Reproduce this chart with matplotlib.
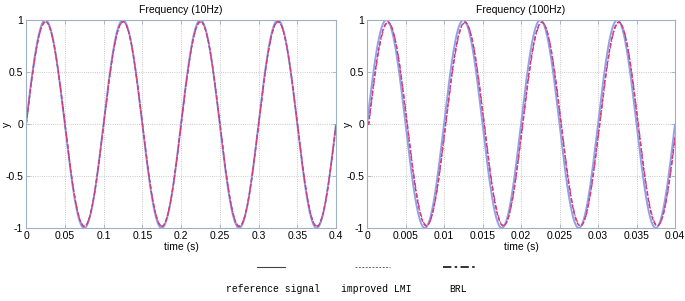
import numpy as np
import matplotlib
matplotlib.use('Agg')
from matplotlib import pyplot as plt
from matplotlib.lines import Line2D

# test signals: sinusoid frequency (Hz), window length (s)
freqs = [10, 100]
t_end = [0.4, 0.04]
titles = ['Frequency (10Hz)', 'Frequency (100Hz)']

# tracking results: peak amplitude and time lag (s)
lmi_amp = [0.985, 0.98]
lmi_lag = [0.0002, 0.0002]
brl_amp = [0.98, 0.975]
brl_lag = [0.00022, 0.00024]

xticks = [[0, 0.05, 0.1, 0.15, 0.2, 0.25, 0.3, 0.35, 0.4],
          [0, 0.005, 0.01, 0.015, 0.02, 0.025, 0.03, 0.035, 0.04]]
xticklabels = [['0', '0.05', '0.1', '0.15', '0.2', '0.25', '0.3', '0.35', '0.4'],
               ['0', '0.005', '0.01', '0.015', '0.02', '0.025', '0.03', '0.035', '0.04']]
yticks = [-1, -0.5, 0, 0.5, 1]
yticklabels = ['-1', '-0.5', '0', '0.5', '1']
legend_labels = ['reference signal', 'improved LMI', 'BRL']

plt.rcParams['font.family'] = ['Liberation Sans Narrow', 'Liberation Sans', 'DejaVu Sans']
plt.rcParams['font.size'] = 7

fig = plt.figure(figsize=(6.85, 3.01), dpi=100)
positions = [[0.038, 0.2425, 0.4525, 0.691], [0.5358, 0.2425, 0.4496, 0.691]]

spine_col = '#9fb0c4'
for i in range(2):
    ax = fig.add_axes(positions[i])
    f = freqs[i]
    t = np.linspace(0, t_end[i], 2000)
    ref = np.sin(2 * np.pi * f * t)
    lmi = lmi_amp[i] * np.sin(2 * np.pi * f * np.clip(t - lmi_lag[i], 0, None))
    brl = brl_amp[i] * np.sin(2 * np.pi * f * np.clip(t - brl_lag[i], 0, None))

    ax.plot(t, ref, color='#93a2e6', lw=1.4, solid_capstyle='butt')
    ax.plot(t, lmi, color='#b03aa8', lw=1.0, ls=(0, (3, 1.5)))
    ax.plot(t, brl, color='#e0406a', lw=0.9, ls=(0, (4, 1.5, 1, 1.5)))

    ax.set_xlim(0, t_end[i])
    ax.set_ylim(-1, 1)
    ax.set_xticks(xticks[i])
    ax.set_xticklabels(xticklabels[i])
    ax.set_yticks(yticks)
    ax.set_yticklabels(yticklabels)
    ax.tick_params(direction='in', length=3, width=0.6, color=spine_col,
                   top=True, right=True, pad=2, labelsize=7.5)
    ax.grid(True, ls=':', lw=0.6, color='#b8b8b8')
    for s in ax.spines.values():
        s.set_color(spine_col)
        s.set_linewidth(0.8)
    ax.set_title(titles[i], fontsize=7.5, pad=5)
    ax.set_xlabel('time (s)', fontsize=7.5, labelpad=1)
    ax.set_ylabel('y', fontsize=7.5)
    ax.yaxis.set_label_coords(-0.045, 0.5)

# legend below the plots: line samples above the labels
leg_styles = [dict(ls='-', lw=0.8, color='#444444'),
              dict(ls=(0, (2, 1.5)), lw=0.7, color='#666666'),
              dict(ls=(0, (5, 2, 1.5, 2)), lw=1.2, color='#111111')]
leg_x = [(0.375, 0.416), (0.518, 0.569), (0.647, 0.695)]
leg_tx = [0.399, 0.549, 0.669]
for k in range(3):
    fig.lines.append(Line2D(leg_x[k], [0.113, 0.113], transform=fig.transFigure, **leg_styles[k]))
    fig.text(leg_tx[k], 0.04, legend_labels[k], ha='center', va='center',
             family=['Liberation Mono', 'DejaVu Sans Mono'], fontsize=7)

fig.savefig('out.png', dpi=100)
